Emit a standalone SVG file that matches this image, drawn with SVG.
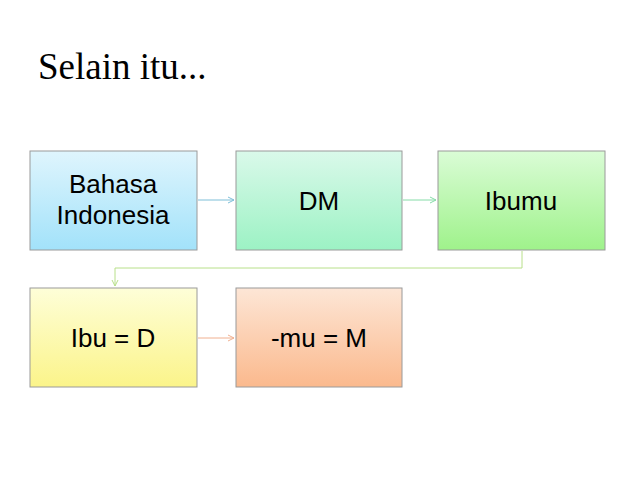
<svg xmlns="http://www.w3.org/2000/svg" width="638" height="479" viewBox="0 0 638 479">
<style>
.b{stroke:#9a9a9a;stroke-width:1}
.t{font-family:"Liberation Sans",Arial,sans-serif;font-size:26px;fill:#000;text-anchor:middle}
.c{fill:none;stroke-width:1}
</style>
<defs>
<linearGradient id="g1" x1="0" y1="0" x2="0" y2="1"><stop offset="0" stop-color="#dff5fd"/><stop offset="1" stop-color="#a2e2fa"/></linearGradient>
<linearGradient id="g2" x1="0" y1="0" x2="0" y2="1"><stop offset="0" stop-color="#daf9ea"/><stop offset="1" stop-color="#9cf2c4"/></linearGradient>
<linearGradient id="g3" x1="0" y1="0" x2="0" y2="1"><stop offset="0" stop-color="#dafcd6"/><stop offset="1" stop-color="#9ff28b"/></linearGradient>
<linearGradient id="g4" x1="0" y1="0" x2="0" y2="1"><stop offset="0" stop-color="#fefed8"/><stop offset="1" stop-color="#fbf48a"/></linearGradient>
<linearGradient id="g5" x1="0" y1="0" x2="0" y2="1"><stop offset="0" stop-color="#fde6d6"/><stop offset="1" stop-color="#fbb98d"/></linearGradient>
<marker id="a1" markerWidth="8" markerHeight="8" refX="7" refY="4" orient="auto" markerUnits="userSpaceOnUse"><path d="M1,1 L7,4 L1,7" fill="none" stroke="#7fbfd8"/></marker>
<marker id="a2" markerWidth="8" markerHeight="8" refX="7" refY="4" orient="auto" markerUnits="userSpaceOnUse"><path d="M1,1 L7,4 L1,7" fill="none" stroke="#86dca8"/></marker>
<marker id="a3" markerWidth="8" markerHeight="8" refX="7" refY="4" orient="auto" markerUnits="userSpaceOnUse"><path d="M1,1 L7,4 L1,7" fill="none" stroke="#b8e08a"/></marker>
<marker id="a4" markerWidth="8" markerHeight="8" refX="7" refY="4" orient="auto" markerUnits="userSpaceOnUse"><path d="M1,1 L7,4 L1,7" fill="none" stroke="#f0b090"/></marker>
</defs>
<rect width="638" height="479" fill="#fff"/>
<text x="38" y="79" font-family="Liberation Serif,serif" font-size="37" fill="#000">Selain itu...</text>
<g id="connectors">
<line class="c" x1="198" y1="200" x2="234" y2="200" stroke="#7fbfd8" marker-end="url(#a1)"/>
<line class="c" x1="403" y1="200" x2="436" y2="200" stroke="#86dca8" marker-end="url(#a2)"/>
<polyline class="c" points="522,251 522,268 115,268 115,286" stroke="#b8e08a" marker-end="url(#a3)"/>
<line class="c" x1="198" y1="338" x2="234" y2="338" stroke="#f0b090" marker-end="url(#a4)"/>
</g>
<g id="n1"><rect class="b" x="30" y="151" width="167" height="99" fill="url(#g1)"/><text class="t" x="113" y="193">Bahasa</text><text class="t" x="113" y="224">Indonesia</text></g>
<g id="n2"><rect class="b" x="236" y="151" width="166" height="99" fill="url(#g2)"/><text class="t" x="319" y="210">DM</text></g>
<g id="n3"><rect class="b" x="438" y="151" width="167" height="99" fill="url(#g3)"/><text class="t" x="521" y="210">Ibumu</text></g>
<g id="n4"><rect class="b" x="30" y="288" width="167" height="99" fill="url(#g4)"/><text class="t" x="113" y="347">Ibu = D</text></g>
<g id="n5"><rect class="b" x="236" y="288" width="166" height="99" fill="url(#g5)"/><text class="t" x="319" y="347">-mu = M</text></g>
</svg>
